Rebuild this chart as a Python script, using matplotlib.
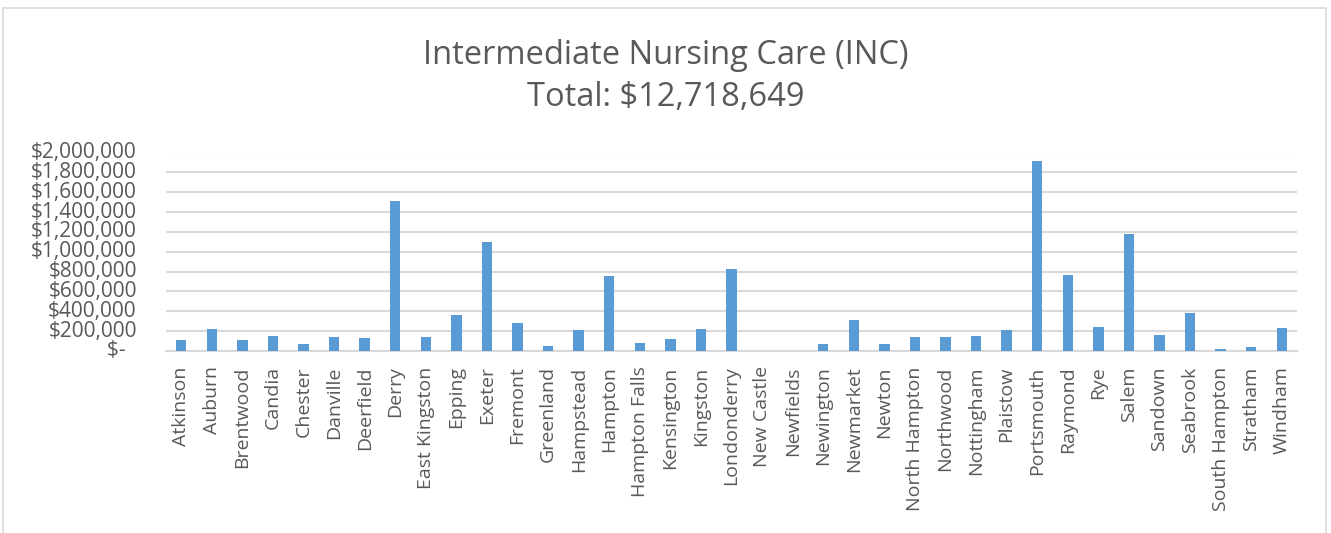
import matplotlib
matplotlib.use("Agg")
import matplotlib.pyplot as plt
from matplotlib.patches import Rectangle
from matplotlib.ticker import FuncFormatter

towns = ["Atkinson", "Auburn", "Brentwood", "Candia", "Chester", "Danville", "Deerfield",
         "Derry", "East Kingston", "Epping", "Exeter", "Fremont", "Greenland", "Hampstead",
         "Hampton", "Hampton Falls", "Kensington", "Kingston", "Londonderry", "New Castle",
         "Newfields", "Newington", "Newmarket", "Newton", "North Hampton", "Northwood",
         "Nottingham", "Plaistow", "Portsmouth", "Raymond", "Rye", "Salem", "Sandown",
         "Seabrook", "South Hampton", "Stratham", "Windham"]
values = [114000, 219000, 108000, 152000, 71000, 145000, 128000,
          1508000, 141000, 360000, 1098000, 279000, 54000, 209000,
          754000, 81000, 118000, 219000, 825000, 5000,
          4000, 71000, 316000, 74000, 138000, 141000,
          148000, 209000, 1916000, 761000, 246000, 1175000, 165000,
          387000, 20000, 44000, 236000]
yticks = list(range(0, 2000001, 200000))
title_lines = ["Intermediate Nursing Care (INC)", "Total: $12,718,649"]

plt.rcParams['font.family'] = ['Open Sans', 'DejaVu Sans']
W, H = 1331, 533
fig = plt.figure(figsize=(W / 100, H / 100), dpi=100)
fig.patch.set_facecolor("white")

# outer chart border
fig.patches.append(Rectangle((3 / W, -0.05), (1326 - 3) / W, 1.05 - 8 / H,
                             transform=fig.transFigure, fill=False,
                             edgecolor="#D9D9D9", linewidth=1.2))

ax = fig.add_axes([166 / W, 1 - 351 / H, (1297 - 166) / W, (351 - 152.5) / H])
x = list(range(len(towns)))
ax.bar(x, values, width=0.34, color="#5B9BD5", zorder=3)
ax.set_xlim(-0.5, len(towns) - 0.5)
ax.set_ylim(0, 2000000)
ax.set_yticks(yticks)
ax.yaxis.set_major_formatter(
    FuncFormatter(lambda v, p: "$-\u00a0\u00a0" if v == 0 else f"${v:,.0f}"))
ax.set_xticks(x)
ax.set_xticklabels(towns, rotation=90)
ax.grid(axis="y", color="#D9D9D9", linewidth=1.5, zorder=0)
for s in ["top", "right", "left"]:
    ax.spines[s].set_visible(False)
ax.spines["bottom"].set_color("#D9D9D9")
ax.spines["bottom"].set_linewidth(1.5)
ax.tick_params(axis="both", length=0, labelsize=14, colors="#595959")
ax.tick_params(axis="y", pad=21, labelsize=15)
ax.tick_params(axis="x", pad=11)
for lbl in ax.get_yticklabels():
    lbl.set_va("center")

fig.text(666 / W, 1 - 55 / H, title_lines[0], ha="center", va="center",
         fontsize=23.5, color="#595959")
fig.text(666 / W, 1 - 97 / H, title_lines[1], ha="center", va="center",
         fontsize=23.5, color="#595959")

fig.savefig("out.png", dpi=100)
